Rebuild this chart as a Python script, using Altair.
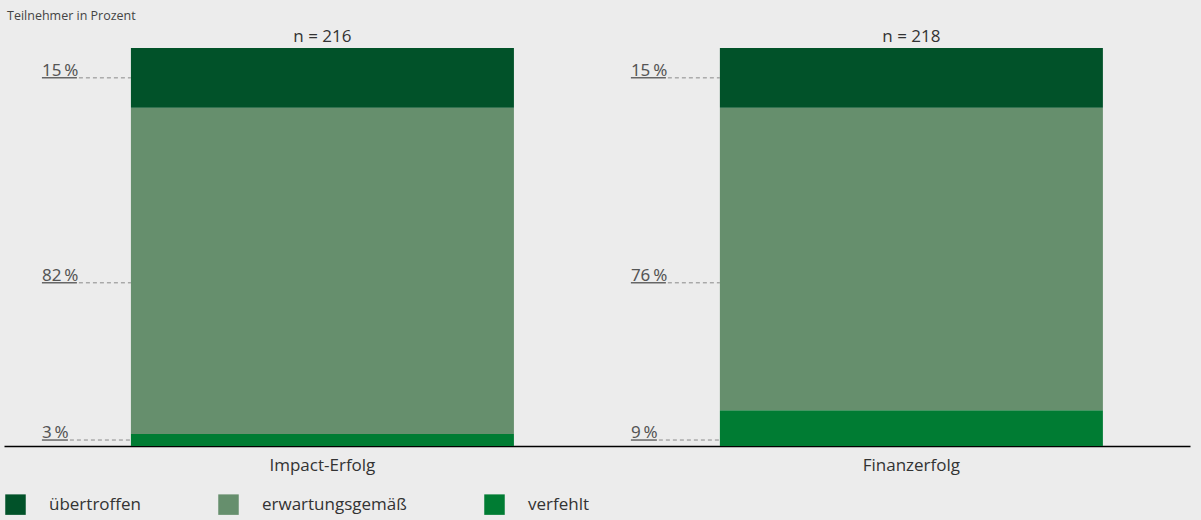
import altair as alt
import pandas as pd

title_text = "Teilnehmer in Prozent"
categories = ["Impact-Erfolg", "Finanzerfolg"]
n_values = [216, 218]
segments = ["verfehlt", "erwartungsgemäß", "übertroffen"]  # bottom -> top
impact_values = [3, 82, 15]
finanz_values = [9, 76, 15]
legend_order = ["übertroffen", "erwartungsgemäß", "verfehlt"]
legend_colors = ["#015229", "#668f6d", "#007c33"]

values_by_cat = {"Impact-Erfolg": impact_values, "Finanzerfolg": finanz_values}

# label rows are shared by both bars (aligned like in the original)
ref = impact_values
row_y = [ref[0] / 2, ref[1] / 2, 100 - ref[2] / 2]

rows = []
for cat in categories:
    vals = values_by_cat[cat]
    base = 0
    for i, (seg, v) in enumerate(zip(segments, vals)):
        rows.append({
            "cat": cat, "seg": seg, "value": v,
            "y0": base, "y1": base + v,
            "label": f"{v}\u2009%",
            "label_y": row_y[i],
            "digits": len(str(v)),
        })
        base += v
df = pd.DataFrame(rows)

ndf = pd.DataFrame({
    "cat": categories,
    "n": [f"n = {n}" for n in n_values],
    "total": [sum(values_by_cat[c]) for c in categories],
})

xscale = alt.Scale(domain=categories, paddingInner=0.3497, paddingOuter=0.1817, align=0.593)
yscale = alt.Scale(domain=[0, 100], nice=False, zero=True)

xenc = alt.X("cat:N", scale=xscale, sort=categories,
             axis=alt.Axis(title=None, labelAngle=0, ticks=False, domain=True,
                           domainColor="#000000", domainWidth=1.5,
                           labelFontSize=17, labelColor="#333333", labelFont="Open Sans",
                           labelPadding=11))
x0 = alt.X("cat:N", scale=xscale, sort=categories, bandPosition=0)
x0b = alt.X2("cat:N", bandPosition=0)

bars = alt.Chart(df).mark_bar().encode(
    x=xenc,
    y=alt.Y("y0:Q", scale=yscale, axis=None),
    y2="y1:Q",
    color=alt.Color("seg:N", scale=alt.Scale(domain=legend_order, range=legend_colors),
                    legend=alt.Legend(title=None, orient="none", legendX=1, legendY=446,
                                      direction="horizontal", symbolType="square",
                                      symbolSize=420, symbolStrokeWidth=0,
                                      labelFontSize=17, labelFont="Open Sans",
                                      labelColor="#333333", labelOffset=23,
                                      columnPadding=77, padding=0)),
)

labels = alt.Chart(df).mark_text(align="left", baseline="alphabetic", dx=-89, dy=-2,
                                 fontSize=17, font="Noto Sans", color="#555555").encode(
    x=x0, y=alt.Y("label_y:Q", scale=yscale), text="label:N")

dash2 = alt.Chart(df).transform_filter("datum.digits == 2").mark_rule(
    strokeDash=[4, 3], color="#8a8a8a", strokeWidth=1, xOffset=-52).encode(
    x=x0, x2=x0b, y=alt.Y("label_y:Q", scale=yscale))

dash1 = alt.Chart(df).transform_filter("datum.digits == 1").mark_rule(
    strokeDash=[4, 3], color="#8a8a8a", strokeWidth=1, xOffset=-61).encode(
    x=x0, x2=x0b, y=alt.Y("label_y:Q", scale=yscale))

under2 = alt.Chart(df).transform_filter("datum.digits == 2").mark_rule(
    color="#666666", strokeWidth=1.5, xOffset=-89, x2Offset=-54).encode(
    x=x0, x2=x0b, y=alt.Y("label_y:Q", scale=yscale))

under1 = alt.Chart(df).transform_filter("datum.digits == 1").mark_rule(
    color="#666666", strokeWidth=1.5, xOffset=-89, x2Offset=-63).encode(
    x=x0, x2=x0b, y=alt.Y("label_y:Q", scale=yscale))

ntext = alt.Chart(ndf).mark_text(baseline="bottom", dy=-2, fontSize=17, font="Open Sans",
                                 color="#333333").encode(
    x=alt.X("cat:N", scale=xscale, sort=categories),
    y=alt.Y("total:Q", scale=yscale), text="n:N")

title = alt.Chart(pd.DataFrame({"t": [title_text]})).mark_text(
    align="left", baseline="middle", fontSize=12.5, font="Open Sans", color="#444444").encode(
    x=alt.value(3), y=alt.value(-32), text="t:N")

chart = alt.layer(bars, dash2, dash1, under2, under1, labels, ntext, title).properties(
    width=1186, height=398,
    background="#ececec",
    padding={"left": 4, "top": 48, "right": 11, "bottom": 74},
    autosize=alt.AutoSizeParams(type="none"),
).configure_view(stroke=None)

chart.save("out.html", embed_options={"renderer": "svg", "actions": False})
